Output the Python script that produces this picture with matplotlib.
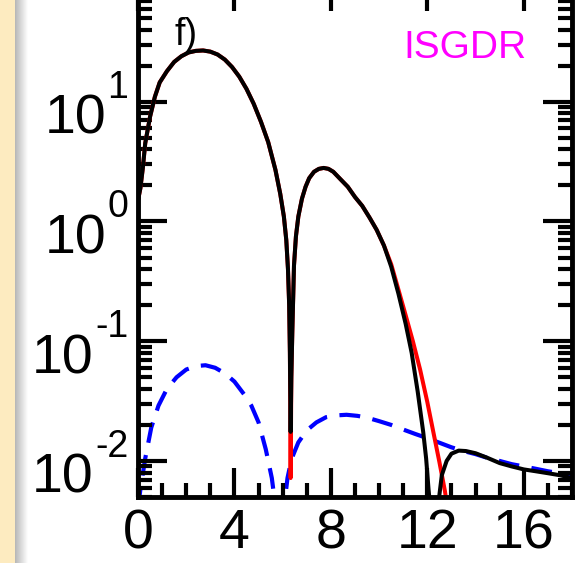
import numpy as np
import matplotlib
matplotlib.use("Agg")
import matplotlib.pyplot as plt
from matplotlib.patches import Rectangle
from matplotlib.ticker import MultipleLocator, LogLocator, NullFormatter, FixedLocator

plt.rcParams['font.family'] = ['Liberation Sans', 'DejaVu Sans']

# shared part of the black and red curves (first two lobes)
theta_main = [0.0, 0.1, 0.2, 0.3, 0.5, 0.7, 0.9, 1.2, 1.5, 1.8, 2.1, 2.4, 2.7, 3.0,
              3.3, 3.6, 3.9, 4.2, 4.5, 4.8, 5.1, 5.4, 5.7, 5.9, 6.05, 6.15, 6.22,
              6.27, 6.30, 6.33]
xs_main = [1.5, 1.9, 2.8, 4.5, 7.5, 11.0, 14.5, 18.0, 21.5, 24.0, 25.8, 26.6, 26.8, 26.2,
           24.8, 22.5, 19.5, 16.2, 12.8, 9.6, 6.8, 4.6, 2.7, 1.7, 1.1, 0.7, 0.4,
           0.2, 0.08, 0.0175]
theta_lobe2 = [6.36, 6.40, 6.47, 6.55, 6.65, 6.8, 6.95, 7.1, 7.3, 7.5, 7.7, 7.9, 8.1,
               8.4, 8.7, 9.0, 9.3, 9.6, 9.9, 10.2]
xs_lobe2 = [0.05, 0.12, 0.43, 0.75, 1.1, 1.55, 1.95, 2.3, 2.6, 2.75, 2.8, 2.75, 2.6,
            2.25, 1.95, 1.6, 1.35, 1.08, 0.85, 0.63]

# black tail (third lobe)
theta_black_tail = [10.5, 10.8, 11.1, 11.35, 11.6, 11.83, 11.95, 12.05, 12.15, 12.3,
                    12.42, 12.5, 12.6, 12.8, 13.0, 13.3, 13.6, 14.0, 14.5, 15.0,
                    15.5, 16.0, 16.5, 17.0, 17.5, 18.0]
xs_black_tail = [0.42, 0.25, 0.14, 0.08, 0.038, 0.0174, 0.0105, 0.0058, 0.0035, 0.002,
                 0.0035, 0.0052, 0.0076, 0.0100, 0.0115, 0.0122, 0.0121, 0.0116, 0.0106, 0.0096,
                 0.0090, 0.0085, 0.0082, 0.0079, 0.0076, 0.0072]

# red tail
theta_red_tail = [10.5, 10.8, 11.1, 11.4, 11.7, 12.0, 12.25, 12.5, 12.73, 12.9, 13.0]
xs_red_tail = [0.44, 0.27, 0.165, 0.10, 0.058, 0.031, 0.0174, 0.0098, 0.0056, 0.0033, 0.0025]
red_dip = 0.0072

# blue dashed
theta_blue = [0.0, 0.1, 0.3, 0.55, 0.85, 1.2, 1.6, 2.0, 2.4, 2.8, 3.2, 3.6, 4.0, 4.4,
              4.7, 5.0, 5.3, 5.55, 5.75, 5.9, 6.05, 6.2, 6.37, 6.65, 7.0, 7.4, 7.8,
              8.2, 8.65, 9.1, 9.5, 10.0, 10.5, 11.0, 11.5, 12.0, 12.5, 13.0, 13.5,
              14.0, 14.5, 15.0, 15.5, 16.0, 16.5, 17.0, 17.5, 18.0]
xs_blue = [0.004, 0.0058, 0.0105, 0.019, 0.029, 0.040, 0.050, 0.058, 0.062, 0.063, 0.060,
           0.054, 0.046, 0.036, 0.029, 0.021, 0.0125, 0.0072, 0.0035, 0.002, 0.004,
           0.0072, 0.0104, 0.0143, 0.018, 0.021, 0.0232, 0.024, 0.0243, 0.0238, 0.0230,
           0.0215, 0.0200, 0.0183, 0.0168, 0.0155, 0.0142, 0.0130, 0.0121, 0.0114,
           0.0106, 0.0100, 0.0094, 0.0090, 0.0086, 0.0082, 0.0079, 0.0076]

x_ticks = [0, 4, 8, 12, 16]
y_ticks = [1e-2, 1e-1, 1e0, 1e1]
y_exponents = ['-2', '-1', '0', '1']

black_theta = theta_main + theta_lobe2 + theta_black_tail
black_xs = xs_main + xs_lobe2 + xs_black_tail
red_theta = theta_main + [theta_main[-1]] + theta_lobe2 + theta_red_tail
red_xs = xs_main[:-1] + [red_dip, red_dip] + xs_lobe2 + xs_red_tail

fig = plt.figure(figsize=(5.75, 5.63), dpi=100)

# beige side panel with a soft shadow
fig.patches.append(Rectangle((0, 0), 15 / 575, 1, transform=fig.transFigure,
                             facecolor='#FDEBC0', edgecolor='none', zorder=0))
sh = fig.add_axes([15 / 575, 0, 12 / 575, 1])
grad = np.linspace(0.0, 1.0, 64)[None, :]
sh.imshow(grad, aspect='auto', cmap='gray', vmin=-2.5, vmax=1.0)
sh.axis('off')

ax = fig.add_axes([138 / 575, 66 / 563, 434 / 575, 515 / 563])
ax.plot(red_theta, red_xs, color='red', lw=2.9, solid_capstyle='butt', zorder=2)
ax.plot(black_theta, black_xs, color='black', lw=2.9, solid_capstyle='butt', zorder=3)
ax.plot(theta_blue, xs_blue, color='blue', lw=3.0, dashes=(5, 3), zorder=1)

ax.set_yscale('log')
ax.set_xlim(0, 18)
ax.set_ylim(0.005, 100)

ax.xaxis.set_major_locator(FixedLocator(x_ticks))
ax.xaxis.set_minor_locator(MultipleLocator(1))
ax.yaxis.set_major_locator(FixedLocator(y_ticks))
ax.yaxis.set_minor_locator(LogLocator(base=10, subs=np.arange(2, 10), numticks=20))
ax.yaxis.set_minor_formatter(NullFormatter())

ax.tick_params(which='both', direction='in', top=True, right=True, width=3)
ax.tick_params(which='major', length=21)
ax.tick_params(which='minor', length=10)
ax.tick_params(axis='x', labelsize=40, pad=8)
ax.tick_params(axis='y', labelleft=False)
for s in ax.spines.values():
    s.set_linewidth(3.5)

# y labels drawn as "10" plus a raised exponent
for v, e in zip(y_ticks, y_exponents):
    sup = ax.annotate(e, xy=(0, v), xycoords=('axes fraction', 'data'),
                      xytext=(-7, 3), textcoords='offset points',
                      fontsize=27, ha='right', va='baseline', annotation_clip=False)
    ax.annotate('10', xy=(0, 0), xycoords=sup, xytext=(-1, -20.3),
                textcoords='offset points', fontsize=40, ha='right', va='baseline',
                annotation_clip=False)

ax.text(0.085, 0.878, 'f)', transform=ax.transAxes, fontsize=27, va='baseline', ha='left')
ax.text(0.611, 0.852, 'ISGDR', transform=ax.transAxes, fontsize=28, color='#FF00FF',
        va='baseline', ha='left')

plt.savefig('out.png', dpi=100)
plt.close()
